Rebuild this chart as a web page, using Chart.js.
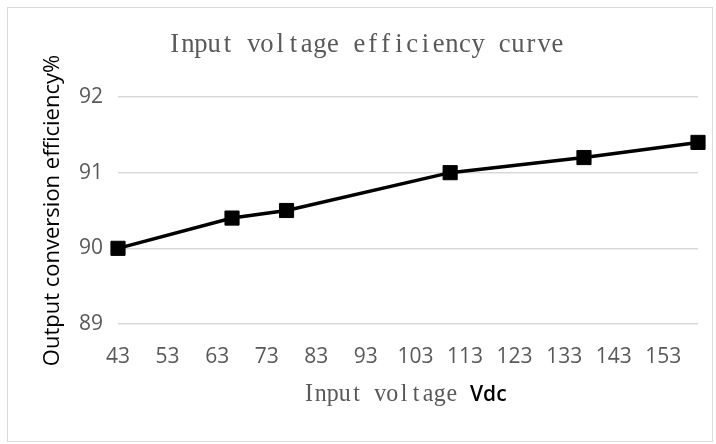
<!DOCTYPE html>
<html lang="en">
<head>
  <meta charset="UTF-8">
  <title>Input voltage efficiency curve</title>
  <script src="https://cdn.jsdelivr.net/npm/chart.js"></script>
  <style>
    body { margin: 0; background: #fff; }
    #box {
      position: absolute; left: 7px; top: 7px;
      width: 704px; height: 433px;
      border: 1px solid #d9d9d9;
    }
  </style>
</head>
<body>
  <div id="box"><canvas id="chart" width="704" height="433"></canvas></div>

  <script>
    // values
    const voltage = [43, 66, 77, 110, 137, 160];
    const efficiency = [90.0, 90.4, 90.5, 91.0, 91.2, 91.4];
    const xTicks = [43, 53, 63, 73, 83, 93, 103, 113, 123, 133, 143, 153];
    const yTicks = [89, 90, 91, 92];

    const titleText = 'Input voltage efficiency curve';
    const xTitleMono = 'Input voltage ';
    const xTitleUnit = 'Vdc';
    const yTitleText = 'Output conversion efficiency%';

    // fixed-pitch serif text, mimics the SimSun latin of the original
    function cellText(ctx, text, x, y, pitch, size, sx, color) {
      ctx.save();
      ctx.font = size + 'px "Liberation Serif"';
      ctx.fillStyle = color;
      ctx.textAlign = 'center';
      ctx.textBaseline = 'alphabetic';
      for (let i = 0; i < text.length; i++) {
        ctx.save();
        ctx.translate(x + pitch * (i + 0.5), y);
        ctx.scale(sx, 1);
        ctx.fillText(text[i], 0, 0);
        ctx.restore();
      }
      ctx.restore();
    }

    const textPlugin = {
      id: 'excelText',
      afterDraw(chart) {
        const ctx = chart.ctx;
        cellText(ctx, titleText, 160, 44, 13.2, 28, 0.95, '#595959');
        cellText(ctx, xTitleMono, 295, 393, 11.9, 26, 0.92, '#595959');
        ctx.save();
        ctx.font = '600 21px "Open Sans"';
        ctx.fillStyle = '#000';
        ctx.textBaseline = 'alphabetic';
        ctx.fillText(xTitleUnit, 462, 393);
        ctx.restore();
      }
    };

    new Chart(document.getElementById('chart'), {
      type: 'line',
      data: {
        datasets: [{
          data: voltage.map((v, i) => ({ x: v, y: efficiency[i] })),
          borderColor: '#000',
          borderWidth: 3.5,
          backgroundColor: '#000',
          pointStyle: 'rect',
          pointRadius: 10,
          pointBorderWidth: 1,
          pointBorderColor: '#000',
          pointBackgroundColor: '#000',
          tension: 0,
          clip: false
        }]
      },
      options: {
        responsive: false,
        animation: false,
        layout: { padding: { top: 89, right: 14, bottom: 0, left: 0 } },
        plugins: {
          legend: { display: false },
          tooltip: { enabled: false },
          title: { display: false }
        },
        scales: {
          x: {
            type: 'linear',
            min: 43,
            max: 160,
            afterBuildTicks: s => { s.ticks = xTicks.map(v => ({ value: v })); },
            afterFit: s => { s.height = 117; },
            grid: { display: false },
            border: { display: false },
            ticks: {
              color: '#595959',
              font: { family: 'Open Sans', size: 21 },
              padding: 12,
              maxRotation: 0,
              autoSkip: false
            }
          },
          y: {
            min: 89,
            max: 92,
            afterBuildTicks: s => { s.ticks = yTicks.map(v => ({ value: v })); },
            afterFit: s => { s.width = 110; },
            grid: { color: '#d9d9d9', lineWidth: 1.5, drawTicks: false },
            border: { display: false },
            ticks: {
              color: '#595959',
              font: { family: 'Open Sans', size: 21 },
              padding: 15
            },
            title: {
              display: true,
              text: yTitleText,
              color: '#000',
              font: { family: 'Open Sans', size: 22 },
              padding: { top: 32, bottom: 0 }
            }
          }
        }
      },
      plugins: [textPlugin]
    });
  </script>
</body>
</html>
